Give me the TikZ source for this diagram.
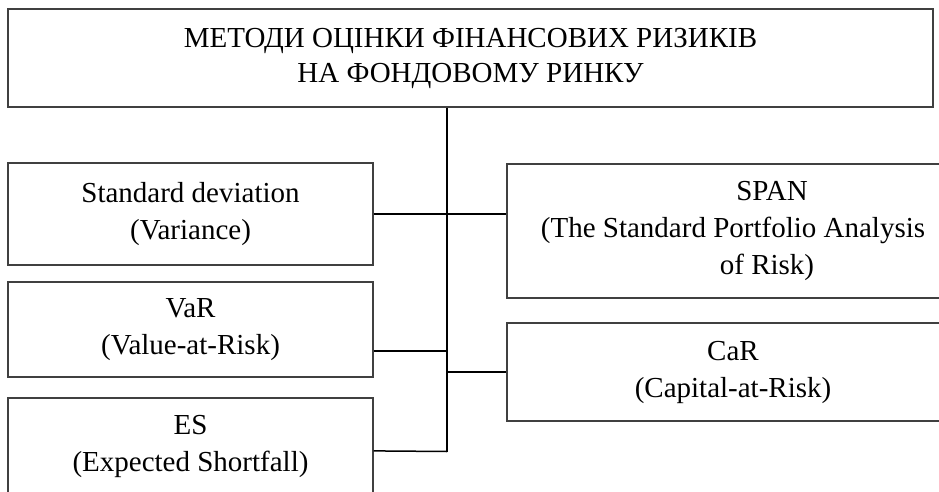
\documentclass[tikz,border=0pt]{standalone}
\usepackage{fontspec}
\setmainfont{Liberation Serif}
\usepackage{tikz}
\usetikzlibrary{calc}
\tikzset{
	methodbox/.style={draw=black!75, line width=1.2pt, align=center, inner sep=0pt, font=\fontsize{29}{37}\selectfont},
	link/.style={draw=black, line width=1.5pt}
}

\begin{document}
\begin{tikzpicture}[x=1pt,y=-1pt]
	\useasboundingbox (0,0) rectangle (939,492);
	\clip (0,0) rectangle (939,492);
	\node[methodbox, name=top, minimum width=925pt, minimum height=98pt, font=\fontsize{29}{35}\selectfont] at (470.5,58) {МЕТОДИ ОЦІНКИ ФІНАНСОВИХ РИЗИКІВ\\НА ФОНДОВОМУ РИНКУ};
%	left column
	\node[methodbox, name=std, minimum width=365pt, minimum height=102pt] at (190.5,214) {Standard deviation\\(Variance)};
	\node[methodbox, name=var, minimum width=365pt, minimum height=95pt] at (190.5,329.5) {VaR\\(Value-at-Risk)};
	\node[methodbox, name=es, minimum width=365pt, minimum height=97pt] at (190.5,446.5) {ES\\(Expected Shortfall)};
%	right column
	\node[methodbox, name=span, minimum width=452pt, minimum height=134pt] at (733,231) {\hspace*{78pt}SPAN\\(The Standard Portfolio Analysis\\\hspace*{68pt}of Risk)};
	\node[methodbox, name=car, minimum width=452pt, minimum height=98pt] at (733,372) {CaR\\(Capital-at-Risk)};
	\coordinate (tt) at (top.south -| 447,0);
	\coordinate (tb) at (447,451.5);
	\draw[link] (tt) -- (tb);
	\draw[link] (std.east) -- (std.east -| span.west);
	\draw[link] ([yshift=26.5pt]var.south east) -- ([yshift=26.5pt]var.south east -| tt);
	\draw[link] ([yshift=-53.5pt]es.north east) -- (tb);
	\draw[link] (car.west) -- (car.west -| tt);
\end{tikzpicture}
\end{document}
